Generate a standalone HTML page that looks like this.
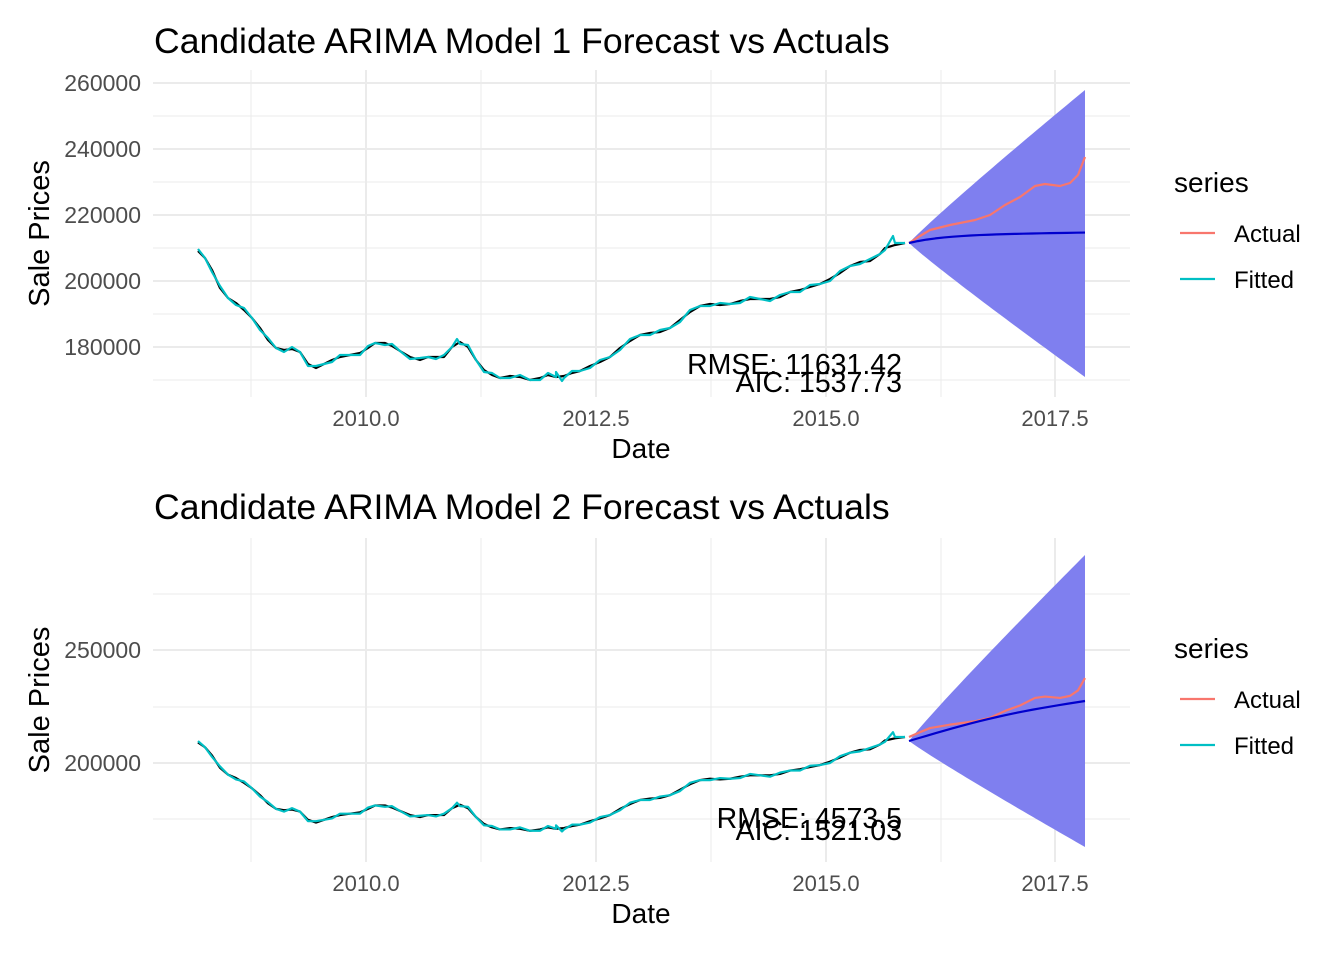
<!DOCTYPE html>
<html><head><meta charset="utf-8"><style>
body{margin:0;background:#fff}
svg{display:block;font-family:"Liberation Sans",sans-serif}
</style></head><body>
<svg id="s" width="1344" height="960" xmlns="http://www.w3.org/2000/svg"></svg>
<script>
const S=document.getElementById('s');let h='';
const act=[[198,251],[205,258],[212,270],[220,288],[228,298],[236,303],[244,310],[252,318],[260,328],[268,340],[276,348],[284,350],[292,349],[300,352],[308,364],[316,368],[324,364],[332,360],[340,357],[350,355],[360,353],[368,348],[375,343],[385,343],[392,346],[400,351],[410,357],[420,360],[428,357],[436,357],[444,357],[452,347],[460,342],[468,347],[476,360],[484,370],[492,375],[500,378],[510,376],[520,377],[530,380],[540,378],[548,375],[556,377],[564,376],[572,373],[580,371],[590,366],[600,362],[610,357],[620,348],[630,341],[640,335],[650,333],[660,332],[670,328],[680,320],[690,312],[700,306],[710,304],[720,305],[730,304],[740,301],[750,299],[760,299],[770,299],[780,297],[790,292],[800,290],[810,287],[820,284],[830,279],[840,273],[850,266],[860,262],[870,261],[880,254],[885,248],[895,245],[905,243]];
let fit=act.map(([x,y],i)=>[x,y+((i%3)-1)*2]);
fit.push([893,236],[556,372],[562,381],[457,339]);
fit.sort((a,b)=>a[0]-b[0]);
const fa=[[909,243],[920,236],[930,230],[950,225],[975,220],[990,215],[1005,205],[1020,197],[1035,186],[1045,184],[1060,186],[1070,183],[1078,175],[1085,157]];
function poly(p,c,w){return `<polyline points="${p.map(q=>q.join(',')).join(' ')}" fill="none" stroke="${c}" stroke-width="${w}" stroke-linejoin="round"/>`}
function panel(off,tr,cfg){
 const top=cfg.top,bot=cfg.bot;
 cfg.minor.forEach(y=>h+=`<line x1="153" x2="1130" y1="${y}" y2="${y}" stroke="#ebebeb" stroke-width="1"/>`);
 [251,481,711,941].forEach(x=>h+=`<line x1="${x}" x2="${x}" y1="${top}" y2="${bot}" stroke="#ebebeb" stroke-width="1"/>`);
 cfg.major.forEach(([y,l])=>{h+=`<line x1="153" x2="1130" y1="${y}" y2="${y}" stroke="#ebebeb" stroke-width="2"/>`;h+=`<text x="141" y="${y+8}" text-anchor="end" font-size="23" fill="#4d4d4d">${l}</text>`});
 [[366,'2010.0'],[596,'2012.5'],[826,'2015.0'],[1055,'2017.5']].forEach(([x,l])=>{h+=`<line x1="${x}" x2="${x}" y1="${top}" y2="${bot}" stroke="#ebebeb" stroke-width="2"/>`;h+=`<text x="${x}" y="${bot+29}" text-anchor="middle" font-size="22" fill="#4d4d4d">${l}</text>`});
 let up=[],lo=[];
 for(let i=0;i<=40;i++){const t=i/40,x=909+176*t,k=Math.pow(t,0.95);up.push([x,cfg.b0-cfg.bu*k]);lo.push([x,cfg.b0+cfg.bl*k]);}
 h+=`<polygon points="${up.concat(lo.reverse()).map(q=>q.join(',')).join(' ')}" fill="#7f7fef"/>`;
 h+=poly(act.map(([x,y])=>[x,tr(y)]),'#000',2.2);
 h+=poly(fit.map(([x,y])=>[x,tr(y)]),'#00bfc4',2.2);
 h+=poly(fa.map(([x,y])=>[x,tr(y)]),'#f8766d',2.2);
 h+=poly(cfg.mean,'#0000cd',2.2);
 h+=`<text x="154" y="${off+53}" font-size="35.6" fill="#000">Candidate ARIMA Model ${cfg.n} Forecast vs Actuals</text>`;
 h+=`<text x="641" y="${bot+61}" text-anchor="middle" font-size="28">Date</text>`;
 const cy=(top+bot)/2;
 h+=`<text transform="translate(49,${cy}) rotate(-90)" text-anchor="middle" font-size="29">Sale Prices</text>`;
 h+=`<text x="902" y="${cfg.ry}" text-anchor="end" font-size="28.5">${cfg.r}</text>`;
 h+=`<text x="902" y="${cfg.ry+cfg.ad}" text-anchor="end" font-size="28.5">${cfg.a}</text>`;
 h+=`<text x="1174" y="${off+192}" font-size="28">series</text>`;
 h+=`<line x1="1180" x2="1215" y1="${off+233}" y2="${off+233}" stroke="#f8766d" stroke-width="2.2"/><text x="1234" y="${off+242}" font-size="24">Actual</text>`;
 h+=`<line x1="1180" x2="1215" y1="${off+279}" y2="${off+279}" stroke="#00bfc4" stroke-width="2.2"/><text x="1234" y="${off+288}" font-size="24">Fitted</text>`;
}
const m1=[];for(let i=0;i<=20;i++){const t=i/20;m1.push([909+176*t,243-8*(1-Math.exp(-5*t))-2.5*t]);}
panel(0,y=>y,{n:1,top:70,bot:397,minor:[116,182,248,314,380],major:[[83,'260000'],[149,'240000'],[215,'220000'],[281,'200000'],[347,'180000']],b0:243,bu:153,bl:134,mean:m1,ry:374,ad:18,r:'RMSE: 11631.42',a:'AIC: 1537.73'});
const tr2=y=>763-0.6848*(281-y);
const m2=[];for(let i=0;i<=20;i++){const t=i/20;m2.push([909+176*t,741-40*t-4*Math.sin(Math.PI*t)]);}
panel(466,tr2,{n:2,top:538,bot:862,minor:[594,707,819],major:[[650,'250000'],[763,'200000']],b0:741,bu:186,bl:106,mean:m2,ry:828,ad:12,r:'RMSE: 4573.5',a:'AIC: 1521.03'});
S.innerHTML=h;
</script>
</body></html>
